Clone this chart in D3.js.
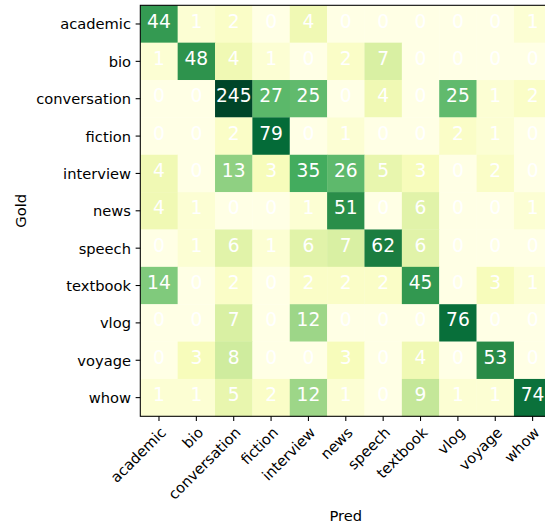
<!DOCTYPE html>
<html>
<head>
<meta charset="utf-8">
<script src="https://cdn.jsdelivr.net/npm/d3@7"></script>
<style>
  html, body { margin: 0; padding: 0; background: #ffffff; }
  svg { display: block; font-family: "DejaVu Sans", sans-serif; }
</style>
</head>
<body>
<svg id="chart" width="545" height="528"></svg>
<script>
// ---- data ----
const goldLabels = ["academic","bio","conversation","fiction","interview","news","speech","textbook","vlog","voyage","whow"];
const predLabels = ["academic","bio","conversation","fiction","interview","news","speech","textbook","vlog","voyage","whow"];

const rowAcademic     = [44, 1, 2, 0, 4, 0, 0, 0, 0, 0, 1];
const rowBio          = [1, 48, 4, 1, 0, 2, 7, 0, 0, 0, 0];
const rowConversation = [0, 0, 245, 27, 25, 0, 4, 0, 25, 1, 2];
const rowFiction      = [0, 0, 2, 79, 0, 1, 0, 0, 2, 1, 0];
const rowInterview    = [4, 0, 13, 3, 35, 26, 5, 3, 0, 2, 0];
const rowNews         = [4, 1, 0, 0, 1, 51, 0, 6, 0, 0, 1];
const rowSpeech       = [0, 1, 6, 1, 6, 7, 62, 6, 0, 0, 0];
const rowTextbook     = [14, 0, 2, 0, 2, 2, 2, 45, 0, 3, 1];
const rowVlog         = [0, 0, 7, 0, 12, 0, 0, 0, 76, 0, 0];
const rowVoyage       = [0, 3, 8, 0, 0, 3, 0, 4, 0, 53, 0];
const rowWhow         = [1, 1, 5, 2, 12, 1, 0, 9, 1, 1, 74];

const xAxisTitle = "Pred";
const yAxisTitle = "Gold";

const matrix = [rowAcademic, rowBio, rowConversation, rowFiction, rowInterview,
                rowNews, rowSpeech, rowTextbook, rowVlog, rowVoyage, rowWhow];

// ---- colour mapping (YlGn, non-linear normalisation) ----
const normKnots = [0, 1, 4, 9, 14, 26, 44, 62, 79, 245];
const normPos   = [0, 0.05, 0.155, 0.31, 0.48, 0.56, 0.68, 0.78, 0.86, 1];
const ylgnStops = ["#ffffe5","#f7fcb9","#d9f0a3","#addd8e","#78c679","#41ab5d","#238443","#006837","#004529"];

const norm = d3.scaleLinear().domain(normKnots).range(normPos).clamp(true);
const cmap = d3.scaleLinear().domain(d3.range(9).map(i => i / 8)).range(ylgnStops).interpolate(d3.interpolateRgb);
const colorOf = v => cmap(norm(v));

// ---- layout ----
const x0 = 140.3, y0 = 5.3, side = 411;
const tickLen = 4.67, tickPad = 4.67;
const tickFont = 14.67, annFont = 18.67;

const svg = d3.select("#chart");

const x = d3.scaleBand().domain(predLabels).range([x0, x0 + side]);
const y = d3.scaleBand().domain(goldLabels).range([y0, y0 + side]);

const cells = [];
matrix.forEach((row, i) => row.forEach((v, j) => cells.push({ gold: goldLabels[i], pred: predLabels[j], v })));

svg.append("g").selectAll("rect").data(cells).join("rect")
  .attr("x", d => x(d.pred))
  .attr("y", d => y(d.gold))
  .attr("width", x.bandwidth() + 0.3)
  .attr("height", y.bandwidth() + 0.3)
  .attr("fill", d => colorOf(d.v));

svg.append("g").selectAll("text").data(cells).join("text")
  .attr("x", d => x(d.pred) + x.bandwidth() / 2)
  .attr("y", d => y(d.gold) + y.bandwidth() / 2 + 3.6)
  .attr("text-anchor", "middle")
  .attr("fill", "#ffffff")
  .style("font-size", annFont + "px")
  .text(d => d.v);

// spines
svg.append("rect")
  .attr("x", x0).attr("y", y0).attr("width", side).attr("height", side)
  .attr("fill", "none").attr("stroke", "#000").attr("stroke-width", 1.07);

// y axis
const yAxis = svg.append("g").attr("transform", `translate(${x0},0)`)
  .call(d3.axisLeft(y).tickSize(tickLen).tickPadding(tickPad));
yAxis.select(".domain").remove();
yAxis.selectAll("line").attr("stroke", "#000").attr("stroke-width", 1.07);
yAxis.selectAll("text").attr("fill", "#000").attr("dy", null)
  .attr("dominant-baseline", "central")
  .style("font-size", tickFont + "px").style("font-family", "DejaVu Sans");

// x axis
const xAxis = svg.append("g").attr("transform", `translate(0,${y0 + side})`)
  .call(d3.axisBottom(x).tickSize(tickLen).tickPadding(tickPad));
xAxis.select(".domain").remove();
xAxis.selectAll("line").attr("stroke", "#000").attr("stroke-width", 1.07);
xAxis.selectAll("text")
  .attr("fill", "#000")
  .attr("y", 0).attr("x", 0).attr("dy", "0.76em")
  .attr("text-anchor", "end")
  .attr("transform", `translate(0,${tickLen + tickPad}) rotate(-45)`)
  .style("font-size", tickFont + "px").style("font-family", "DejaVu Sans");

// axis titles
svg.append("text")
  .attr("x", x0 + side / 2).attr("y", 521)
  .attr("text-anchor", "middle").attr("fill", "#000")
  .style("font-size", tickFont + "px")
  .text(xAxisTitle);

svg.append("text")
  .attr("transform", `translate(26,${y0 + side / 2}) rotate(-90)`)
  .attr("text-anchor", "middle").attr("fill", "#000")
  .style("font-size", tickFont + "px")
  .text(yAxisTitle);
</script>
</body>
</html>
